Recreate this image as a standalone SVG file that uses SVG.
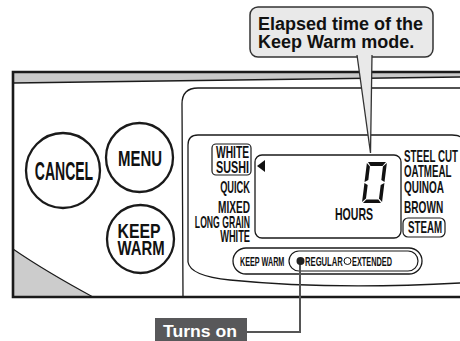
<svg xmlns="http://www.w3.org/2000/svg" width="460" height="341" viewBox="0 0 460 341">
<style>
.ln{fill:none;stroke:#1a1a1a;stroke-width:1.3}
.btn{fill:#fff;stroke:#1a1a1a;stroke-width:2.3}
.lbl{font-family:"Liberation Sans",Arial,sans-serif;font-weight:bold;fill:#111;font-size:16px}
.sm{font-size:13px}
.e{text-anchor:end}
.m{text-anchor:middle}
.call{font-family:"Liberation Sans",Arial,sans-serif;font-weight:bold;fill:#111;font-size:18px}
.seg{fill:#111}
</style>
<rect width="460" height="341" fill="#fff"/>
<g id="panel">
<polygon points="13,72 460,72 460,77 13,83" fill="#c9c9c9"/>
<line x1="13" y1="83" x2="460" y2="77" stroke="#1a1a1a" stroke-width="1.4"/>
<path d="M13,249 Q45,271 93,297 L13,297 Z" fill="#cccccc" stroke="#1a1a1a" stroke-width="1.1"/>
<path d="M460,72 L13,72 L13,297 L460,297" fill="none" stroke="#1a1a1a" stroke-width="2.6"/>
<path class="ln" d="M183,297 C183,250 182,140 182,104 Q182,88 198,88 L460,88"/>
<path class="ln" d="M460,137 Q459,135 452,135 L198,135 Q188,135 188,145 L188,262 Q190,276 230,280 Q330,290 460,283"/>
</g>
<g id="cancel"><ellipse class="btn" cx="63" cy="170.5" rx="37" ry="37.5"/>
<text class="lbl m" style="font-size:25px" transform="translate(64,180) scale(0.56,1)">CANCEL</text></g>
<g id="menu"><ellipse class="btn" cx="139.5" cy="157.5" rx="33.5" ry="34.5"/>
<text class="lbl m" style="font-size:22px" transform="translate(140,166) scale(0.68,1)">MENU</text></g>
<g id="keepwarm"><ellipse class="btn" cx="140.5" cy="239" rx="33.5" ry="34"/>
<text class="lbl m" style="font-size:20px" transform="translate(139,238) scale(0.79,1)">KEEP</text>
<text class="lbl m" style="font-size:20px" transform="translate(141,255) scale(0.745,1)">WARM</text></g>
<g id="lcd">
<rect x="255" y="155" width="146" height="83" rx="7" fill="#fff" stroke="#1a1a1a" stroke-width="1.3"/>
<polygon points="257,166 265,160 265,172" fill="#111"/>
<g transform="translate(367,162) skewX(-7)">
<polygon class="seg" points="1,0 19,0 16,4 4,4"/>
<polygon class="seg" points="0,1 3.5,4.5 3.5,18 0,20"/>
<polygon class="seg" points="20,1 20,20 16.5,18 16.5,4.5"/>
<polygon class="seg" points="0,21 3.5,23 3.5,36.5 0,40"/>
<polygon class="seg" points="20,21 20,40 16.5,36.5 16.5,23"/>
<polygon class="seg" points="1,41 4,37.5 16,37.5 19,41"/>
</g>
<text class="lbl m" transform="translate(354,220) scale(0.66,1)">HOURS</text>
</g>
<g id="left-menu">
<rect x="212" y="144" width="39" height="31" rx="4" fill="none" stroke="#1a1a1a" stroke-width="1.2"/>
<text class="lbl e" transform="translate(249,158) scale(0.64,1)">WHITE</text>
<text class="lbl e" transform="translate(249,173) scale(0.675,1)">SUSHI</text>
<text class="lbl e" transform="translate(250,193) scale(0.58,1)">QUICK</text>
<text class="lbl e" transform="translate(250,213) scale(0.63,1)">MIXED</text>
<text class="lbl e" transform="translate(250,228) scale(0.54,1)">LONG GRAIN</text>
<text class="lbl e" transform="translate(250,242) scale(0.58,1)">WHITE</text>
</g>
<g id="right-menu">
<text class="lbl" transform="translate(404,162) scale(0.61,1)">STEEL CUT</text>
<text class="lbl" transform="translate(404,177) scale(0.61,1)">OATMEAL</text>
<text class="lbl" transform="translate(404,193) scale(0.625,1)">QUINOA</text>
<text class="lbl" transform="translate(404,213) scale(0.63,1)">BROWN</text>
<rect x="403" y="218" width="42" height="19" rx="5" fill="none" stroke="#1a1a1a" stroke-width="1.2"/>
<text class="lbl" transform="translate(408,233) scale(0.61,1)">STEAM</text>
</g>
<g id="keepwarm-indicator">
<rect x="233" y="248" width="189" height="26" rx="13" fill="#fff" stroke="#1a1a1a" stroke-width="1.3"/>
<rect x="289" y="251" width="129" height="20" rx="10" fill="none" stroke="#1a1a1a" stroke-width="1.2"/>
<text class="lbl sm" transform="translate(240,266) scale(0.556,1)">KEEP WARM</text>
<text class="lbl sm" transform="translate(305,266) scale(0.59,1)">REGULAR</text>
<circle cx="347.5" cy="261" r="3.5" fill="#fff" stroke="#111" stroke-width="1"/>
<text class="lbl sm" transform="translate(352,266) scale(0.565,1)">EXTENDED</text>
</g>
<g id="connectors">
<polyline points="300,262 300,332 247,332" fill="none" stroke="#555" stroke-width="2"/>
</g>
<g id="dot"><circle cx="300.5" cy="261" r="4" fill="#222"/></g>
<g id="callout">
<rect x="250" y="7" width="183" height="50" rx="8" fill="#e9e9e9" stroke="#333" stroke-width="1.5"/>
<path d="M357,55 L370.5,153 L372,55" fill="#e9e9e9" stroke="#333" stroke-width="1.3"/>
<rect x="358.3" y="53" width="12.4" height="5" fill="#e9e9e9"/>
<text class="call" x="258" y="30">Elapsed time of the</text>
<text class="call" x="258" y="48">Keep Warm mode.</text>
</g>
<g id="turns-on">
<rect x="155" y="318" width="92" height="23" fill="#58585a"/>
<text x="163" y="337" font-family="Liberation Sans,Arial,sans-serif" font-weight="bold" font-size="17" fill="#fff" textLength="74" lengthAdjust="spacingAndGlyphs">Turns on</text>
</g>
</svg>
